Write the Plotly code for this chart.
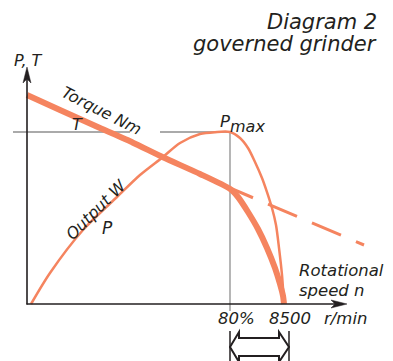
import plotly.graph_objects as go

# ---------------- data ----------------
# speed in % of no-load speed (8500 r/min), values in % of Pmax
power_speed = [1.6, 9.06, 22.07, 35.47, 44.53, 53.60, 60.30, 68.18, 74.09, 80.0,
               83.94, 87.09, 89.85, 92.61, 94.58, 96.55, 98.13, 99.31, 100.49, 101.28]
power_value = [0.0, 18.0, 43.0, 62.2, 75.0, 85.5, 93.6, 98.8, 99.9, 100.0,
               96.5, 90.7, 82.6, 73.3, 65.1, 55.8, 45.9, 32.6, 16.9, 0.0]

torque_speed = [0.0, 13.0, 28.77, 41.77, 53.60, 68.18, 80.0,
                83.15, 87.09, 91.03, 94.58, 97.73, 99.70, 100.89, 101.28]
torque_value = [121.5, 112.8, 102.3, 93.8, 85.3, 75.6, 66.9,
                62.2, 53.5, 43.6, 32.6, 20.9, 11.6, 4.7, 0.0]

# ungoverned torque continuation (dashed)
torque_ext_speed = [77.64, 132.81]
torque_ext_value = [68.95, 34.3]

pmax_speed = 80.0        # governor kicks in at 80 %
pmax_value = 100.0
range_end_speed = 103.25  # 8500 r/min mark

x_tick_labels = ["80%", "8500", "r/min"]

# ---------------- layout helpers ----------------
W, H = 393, 361
X0_PX, PX_PER_X = 27.0, 2.5375
Y0_PX, PX_PER_Y = 304.0, 1.72
x_range = [(0 - X0_PX) / PX_PER_X, (W - X0_PX) / PX_PER_X]
y_range = [(Y0_PX - H) / PX_PER_Y, (Y0_PX - 0) / PX_PER_Y]


def px(xp):
    return xp / W


def py(yp):
    return 1 - yp / H


ORANGE = "#F5845F"
GRAY = "#8E8E8E"
INK = "#231F20"
FONT = "DejaVu Sans"

fig = go.Figure()

fig.add_trace(go.Scatter(x=power_speed, y=power_value, mode="lines",
                         line=dict(color=ORANGE, width=2.5, shape="spline", smoothing=0.8),
                         hoverinfo="skip"))
fig.add_trace(go.Scatter(x=torque_ext_speed, y=torque_ext_value, mode="lines",
                         line=dict(color=ORANGE, width=3, dash="31.5px,16.3px"),
                         hoverinfo="skip"))
fig.add_trace(go.Scatter(x=torque_speed, y=torque_value, mode="lines",
                         line=dict(color=ORANGE, width=6, shape="spline", smoothing=0.6),
                         hoverinfo="skip"))

shapes = []
# gray guide lines
gap_l = (130 - X0_PX) / PX_PER_X
gap_r = (160 - X0_PX) / PX_PER_X
left_start = (13 - X0_PX) / PX_PER_X
shapes.append(dict(type="line", xref="x", yref="y", x0=left_start, x1=gap_l,
                   y0=pmax_value, y1=pmax_value, line=dict(color=GRAY, width=1.3), layer="below"))
shapes.append(dict(type="line", xref="x", yref="y", x0=gap_r, x1=pmax_speed,
                   y0=pmax_value, y1=pmax_value, line=dict(color=GRAY, width=1.3), layer="below"))
shapes.append(dict(type="line", xref="x", yref="paper", x0=pmax_speed, x1=pmax_speed,
                   y0=py(Y0_PX - pmax_value * PX_PER_Y), y1=py(311),
                   line=dict(color=GRAY, width=1.3), layer="below"))

# axes
shapes.append(dict(type="line", xref="paper", yref="paper", x0=px(27), x1=px(27),
                   y0=py(304.5), y1=py(74), line=dict(color=INK, width=1.6)))
shapes.append(dict(type="line", xref="paper", yref="paper", x0=px(26.5), x1=px(340),
                   y0=py(304), y1=py(304), line=dict(color=INK, width=1.6)))


def path(points):
    return "M " + " L ".join(f"{px(a):.5f},{py(b):.5f}" for a, b in points) + " Z"


# arrowheads
shapes.append(dict(type="path", xref="paper", yref="paper",
                   path=path([(27, 67), (31, 83), (27, 79), (23, 83)]),
                   fillcolor=INK, line=dict(color=INK, width=0.5)))
shapes.append(dict(type="path", xref="paper", yref="paper",
                   path=path([(347, 304), (331, 300), (335, 304), (331, 308)]),
                   fillcolor=INK, line=dict(color=INK, width=0.5)))

# range bars + hollow double arrow
xa = X0_PX + pmax_speed * PX_PER_X
xb = X0_PX + range_end_speed * PX_PER_X
for xx in (xa, xb):
    shapes.append(dict(type="line", xref="paper", yref="paper", x0=px(xx), x1=px(xx),
                       y0=py(331), y1=py(362), line=dict(color=INK, width=1.5)))
shapes.append(dict(type="path", xref="paper", yref="paper",
                   path=path([(xa, 347), (xa + 9, 332), (xa + 9, 338), (xb - 10, 338),
                              (xb - 10, 332), (xb, 347), (xb - 10, 362), (xb - 10, 356),
                              (xa + 9, 356), (xa + 9, 362)]),
                   fillcolor="white", line=dict(color=INK, width=2)))

anns = []


def label(text, x, y, size=16.5, angle=0, xanchor="center", yanchor="middle"):
    anns.append(dict(text=text, x=px(x), y=py(y), xref="paper", yref="paper",
                     showarrow=False, xanchor=xanchor, yanchor=yanchor, textangle=angle,
                     borderpad=0,
                     font=dict(family=FONT, size=size, color=INK, style="italic")))


label("Diagram 2", 378, 22, size=21, xanchor="right")
label("governed grinder", 378, 44, size=21, xanchor="right")
label("P, T", 28, 61, size=16)
label("Torque Nm", 101, 111, size=16, angle=27)
label("T", 77, 124, size=16)
label("Output W", 96, 209, size=16, angle=-45)
label("P", 107, 228, size=17)
label("P", 225, 121, size=16.5)
label("max", 229, 126, size=16, xanchor="left")
label("Rotational", 298, 270, size=16.5, xanchor="left")
label("speed n", 298, 290, size=16.5, xanchor="left")
label(x_tick_labels[0], 236, 318, size=16.5)
label(x_tick_labels[1], 290, 318, size=16.5)
label(x_tick_labels[2], 345, 318, size=16.5)

fig.update_layout(
    width=W, height=H, margin=dict(l=0, r=0, t=0, b=0),
    paper_bgcolor="white", plot_bgcolor="white", showlegend=False,
    xaxis=dict(range=x_range, visible=False, fixedrange=True),
    yaxis=dict(range=y_range, visible=False, fixedrange=True),
    shapes=shapes, annotations=anns,
)

fig.write_html("out.html", config={"displayModeBar": False},
               post_script="document.body.style.margin='0px';document.body.style.overflow='hidden';")
